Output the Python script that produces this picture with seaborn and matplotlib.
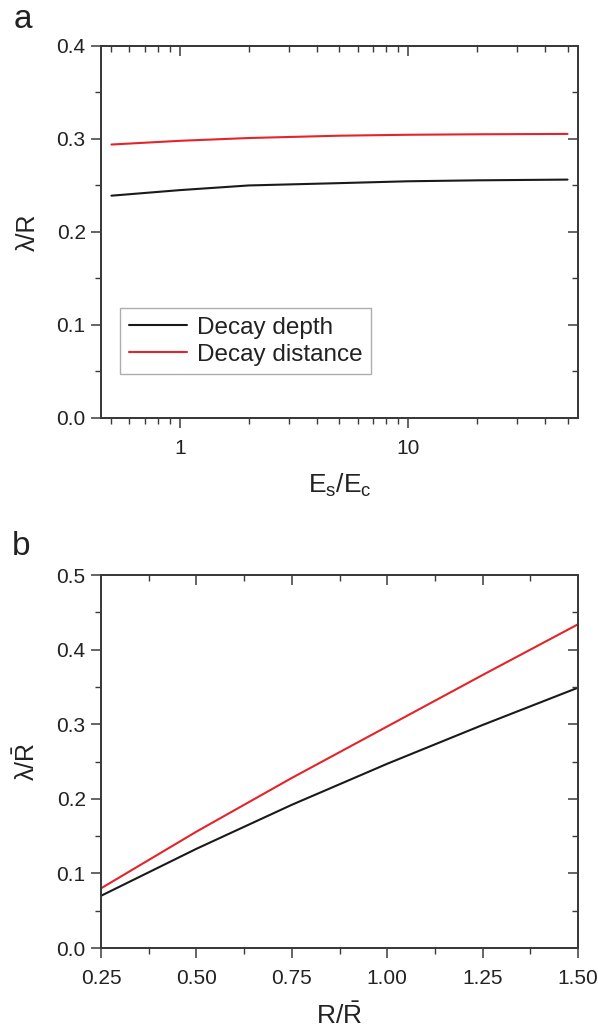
import numpy as np
import pandas as pd
import matplotlib
matplotlib.use("Agg")
import matplotlib.pyplot as plt
import seaborn as sns
from matplotlib.ticker import MultipleLocator, LogLocator, FixedLocator, NullFormatter, FormatStrFormatter

# ---- data ----
es_ec = [0.5, 1, 2, 5, 10, 20, 50]
decay_depth_a = [0.239, 0.245, 0.250, 0.2525, 0.2545, 0.2555, 0.2563]
decay_dist_a = [0.294, 0.298, 0.301, 0.3035, 0.3045, 0.305, 0.3054]

r_rbar = [0.25, 0.5, 0.75, 1.0, 1.25, 1.5]
decay_depth_b = [0.070, 0.133, 0.192, 0.247, 0.299, 0.349]
decay_dist_b = [0.080, 0.156, 0.228, 0.297, 0.366, 0.434]

series_names = ["Decay depth", "Decay distance"]
colors = ["#1a1a1a", "#e3242b"]

sns.set_theme(style="ticks")
plt.rcParams['font.family'] = ['Liberation Sans', 'DejaVu Sans']
plt.rcParams['mathtext.fontset'] = 'custom'
plt.rcParams['mathtext.rm'] = 'Liberation Sans'
plt.rcParams['mathtext.it'] = 'Liberation Sans:italic'

spine_c = "#3a3a3a"
txt_c = "#222222"
dfa = pd.DataFrame({"x": es_ec * 2, "y": decay_depth_a + decay_dist_a,
                    "s": [series_names[0]] * len(es_ec) + [series_names[1]] * len(es_ec)})
dfb = pd.DataFrame({"x": r_rbar * 2, "y": decay_depth_b + decay_dist_b,
                    "s": [series_names[0]] * len(r_rbar) + [series_names[1]] * len(r_rbar)})

fig = plt.figure(figsize=(5.98, 10.30), dpi=100)
ax1 = fig.add_axes([0.1689, 0.5942, 0.7977, 0.3612])
ax2 = fig.add_axes([0.1689, 0.0796, 0.7977, 0.3621])

pal = dict(zip(series_names, colors))
sns.lineplot(data=dfa, x="x", y="y", hue="s", palette=pal, ax=ax1, linewidth=1.5)
sns.lineplot(data=dfb, x="x", y="y", hue="s", palette=pal, ax=ax2, linewidth=1.5, legend=False)

MAJ_L, MIN_L = 7, 4

def style(ax):
    for sp in ax.spines.values():
        sp.set_visible(True)
        sp.set_color(spine_c)
        sp.set_linewidth(1.2)
    ax.tick_params(axis='both', which='major', direction='out', length=MAJ_L, width=1.1,
                   color=spine_c, labelsize=15, labelcolor=txt_c)
    ax.tick_params(axis='x', which='major', pad=8)
    ax.tick_params(axis='y', which='major', pad=4)
    ax.tick_params(axis='both', which='minor', direction='out', length=MIN_L, width=1.0, color=spine_c)

# top panel
ax1.set_xscale('log')
ax1.set_xlim(0.45, 55.6)
ax1.set_ylim(0, 0.4)
ax1.xaxis.set_major_locator(FixedLocator([1, 10]))
ax1.xaxis.set_major_formatter(FormatStrFormatter('%g'))
ax1.xaxis.set_minor_locator(LogLocator(base=10, subs=np.arange(2, 10)))
ax1.xaxis.set_minor_formatter(NullFormatter())
ax1.yaxis.set_major_locator(MultipleLocator(0.1))
ax1.yaxis.set_minor_locator(MultipleLocator(0.05))
ax1.yaxis.set_major_formatter(FormatStrFormatter('%.1f'))
style(ax1)
ax1.set_xlabel(r'$\mathrm{E_s/E_c}$', fontsize=19, labelpad=10, color=txt_c)
ax1.set_ylabel('λ/R', fontsize=18, labelpad=12, color=txt_c)

leg = ax1.legend(loc='lower left', bbox_to_anchor=(0.04, 0.118), borderaxespad=0,
                 fontsize=17.5, frameon=True, fancybox=False, handlelength=2.4,
                 handletextpad=0.4, borderpad=0.35, labelspacing=0.2)
leg.get_frame().set_edgecolor('#999999')
leg.get_frame().set_linewidth(1.0)
for t in leg.get_texts():
    t.set_color(txt_c)

# bottom panel
ax2.set_xlim(0.25, 1.5)
ax2.set_ylim(0, 0.5)
ax2.xaxis.set_major_locator(MultipleLocator(0.25))
ax2.xaxis.set_minor_locator(MultipleLocator(0.125))
ax2.xaxis.set_major_formatter(FormatStrFormatter('%.2f'))
ax2.yaxis.set_major_locator(MultipleLocator(0.1))
ax2.yaxis.set_minor_locator(MultipleLocator(0.05))
ax2.yaxis.set_major_formatter(FormatStrFormatter('%.1f'))
style(ax2)
ax2.set_xlabel(r'R/$\bar{\mathrm{R}}$', fontsize=19, labelpad=10, color=txt_c)
ax2.set_ylabel(r'λ/$\bar{\mathrm{R}}$', fontsize=18, labelpad=12, color=txt_c)

# mirrored inward ticks on top/right
for ax in (ax1, ax2):
    tx = ax.twiny()
    tx.set_xscale(ax.get_xscale())
    tx.set_xlim(ax.get_xlim())
    tx.xaxis.set_major_locator(ax.xaxis.get_major_locator())
    tx.xaxis.set_minor_locator(ax.xaxis.get_minor_locator())
    tx.xaxis.set_major_formatter(NullFormatter())
    tx.xaxis.set_minor_formatter(NullFormatter())
    tx.tick_params(axis='x', which='major', direction='in', length=MAJ_L, width=1.1, color=spine_c)
    tx.tick_params(axis='x', which='minor', direction='in', length=MIN_L, width=1.0, color=spine_c)
    ty = ax.twinx()
    ty.set_ylim(ax.get_ylim())
    ty.yaxis.set_major_locator(ax.yaxis.get_major_locator())
    ty.yaxis.set_minor_locator(ax.yaxis.get_minor_locator())
    ty.yaxis.set_major_formatter(NullFormatter())
    ty.tick_params(axis='y', which='major', direction='in', length=MAJ_L, width=1.1, color=spine_c)
    ty.tick_params(axis='y', which='minor', direction='in', length=MIN_L, width=1.0, color=spine_c)
    for t in (tx, ty):
        for sp in t.spines.values():
            sp.set_color(spine_c)
            sp.set_linewidth(1.2)

fig.text(0.022, 0.981, 'a', fontsize=24, ha='left', va='center', color=txt_c)
fig.text(0.020, 0.469, 'b', fontsize=24, ha='left', va='center', color=txt_c)

fig.savefig('out.png', dpi=100)
